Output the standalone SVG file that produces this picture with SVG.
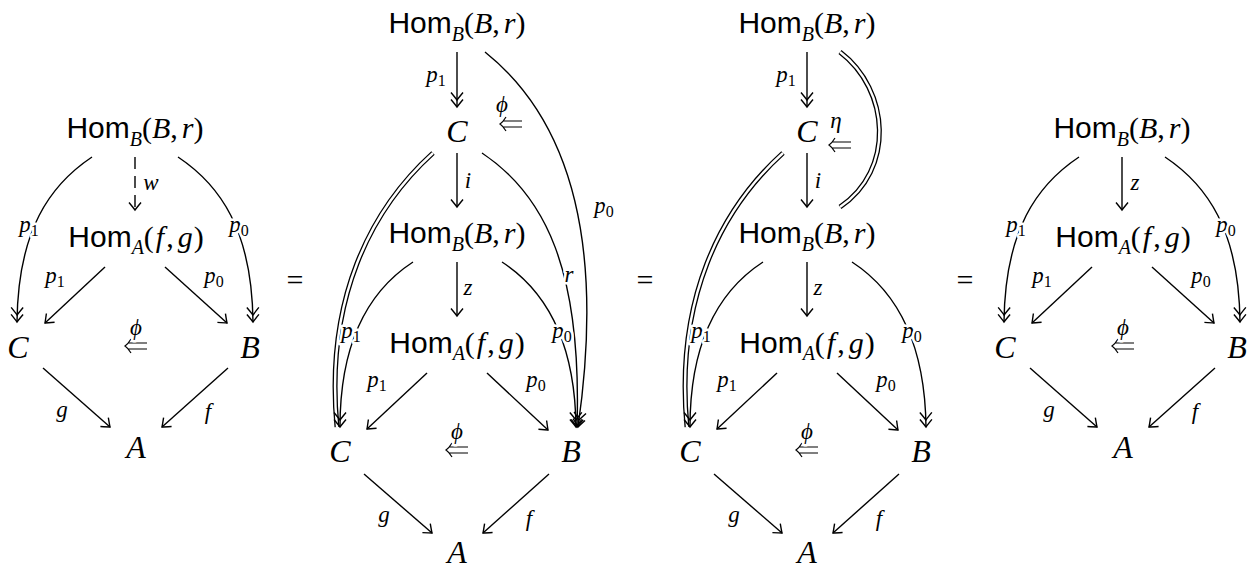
<svg xmlns="http://www.w3.org/2000/svg" xmlns:xlink="http://www.w3.org/1999/xlink" width="1255" height="568" viewBox="0 0 1255 568">
<style>
.m{font-family:"Liberation Serif",serif;font-style:italic;font-size:30px;fill:#000;text-anchor:middle}
.L{font-size:32px}
.u{font-style:normal}
.sf{font-family:"Liberation Sans",sans-serif;font-style:normal}
.sb{font-size:20px}
.lb{font-family:"Liberation Serif",serif;font-style:italic;font-size:23px;fill:#000;text-anchor:middle;stroke:#fff;stroke-width:5px;paint-order:stroke;stroke-linejoin:round}
.s{font-size:16px;font-style:normal}
.eq{font-family:"Liberation Serif",serif;font-size:30px;text-anchor:middle;fill:#000}
.c{fill:none;stroke:#000;stroke-width:1.4}
.a{marker-end:url(#head)}
.a2{marker-end:url(#head2)}
.dash{stroke-dasharray:12 7}
.dbo{fill:none;stroke:#000;stroke-width:5}
.dbi{fill:none;stroke:#fff;stroke-width:2.4}
</style>
<defs>
<marker id="head" markerUnits="userSpaceOnUse" markerWidth="20" markerHeight="20" viewBox="-12 -10 20 20" refX="0" refY="0" orient="auto" overflow="visible">
<path d="M-7.5,-6 Q-2,-1.5 0,0 Q-2,1.5 -7.5,6" fill="none" stroke="#000" stroke-width="1.4"/>
</marker>
<marker id="head2" markerUnits="userSpaceOnUse" markerWidth="30" markerHeight="20" viewBox="-20 -10 30 20" refX="0" refY="0" orient="auto" overflow="visible">
<path d="M-7.5,-6 Q-2,-1.5 0,0 Q-2,1.5 -7.5,6 M-14.5,-6 Q-9,-1.5 -7,0 Q-9,1.5 -14.5,6" fill="none" stroke="#000" stroke-width="1.4"/>
</marker>
<g id="dblarrow">
<path d="M11,-3 H-8 M11,3 H-8 M-5,-7 Q-8,-2 -11,0 Q-8,2 -5,7" fill="none" stroke="#000" stroke-width="1.2"/>
</g>
</defs>

<!-- equals signs -->
<text class="eq" x="295" y="290">=</text>
<text class="eq" x="645" y="290">=</text>
<text class="eq" x="965" y="290">=</text>

<!-- ===== Diagram 1 ===== -->
<g id="diagram1">
<g id="d1-connectors">
<path class="c a dash" d="M135,157 V210"/>
<path class="c a2" d="M92,157 C50,185 18,230 17,322"/>
<path class="c a2" d="M178,157 C220,185 252,230 253,322"/>
<path class="c a" d="M105,267 L45,323"/>
<path class="c a" d="M165,267 L227,323"/>
<path class="c a" d="M43,368 L110,427"/>
<path class="c a" d="M228,368 L162,427"/>
<use xlink:href="#dblarrow" x="136" y="346"/>
<text class="lb" x="151" y="190">w</text>
<text class="lb" x="29" y="232">p<tspan class="s" dy="4">1</tspan></text>
<text class="lb" x="239" y="232">p<tspan class="s" dy="4">0</tspan></text>
<text class="lb" x="55" y="283">p<tspan class="s" dy="4">1</tspan></text>
<text class="lb" x="214" y="283">p<tspan class="s" dy="4">0</tspan></text>
<text class="lb" x="62" y="417">g</text>
<text class="lb" x="208" y="419">f</text>
<text class="lb" x="136" y="335">ϕ</text>
</g>
<g id="d1-homB"><text class="m" x="135" y="138"><tspan class="sf">Hom</tspan><tspan class="sb" dy="8">B</tspan><tspan class="u" dy="-8">(</tspan>B<tspan class="u">,</tspan><tspan dx="4">r</tspan><tspan class="u">)</tspan></text></g>
<g id="d1-homA"><text class="m" x="136" y="247"><tspan class="sf">Hom</tspan><tspan class="sb" dy="7">A</tspan><tspan class="u" dy="-7">(</tspan><tspan dx="2">f</tspan><tspan class="u" dx="2">,</tspan><tspan dx="4">g</tspan><tspan class="u" dx="1">)</tspan></text></g>
<g id="d1-C"><text class="m L" x="18" y="358">C</text></g>
<g id="d1-B"><text class="m L" x="250" y="358">B</text></g>
<g id="d1-A"><text class="m L" x="136" y="458">A</text></g>
</g>

<!-- ===== Diagram 2 ===== -->
<g id="diagram2">
<g id="d2-connectors">
<path class="dbo" d="M433,153 C370,210 325,300 337,427"/>
<path class="dbi" d="M433,153 C370,210 325,300 337,427"/>
<path class="c a2" d="M457,52 V107"/>
<path class="c a2" d="M485,52 C570,120 605,240 578,427"/>
<path class="c a" d="M482,153 C545,195 582,270 577,427"/>
<path class="c a" d="M457,153 V207"/>
<path class="c a2" d="M413,262 C370,290 340,340 340,427"/>
<path class="c a2" d="M502,262 C545,290 575,340 576,427"/>
<path class="c a" d="M457,262 V316"/>
<path class="c a" d="M427,373 L367,429"/>
<path class="c a" d="M487,373 L548,430"/>
<path class="c a" d="M364,474 L432,533"/>
<path class="c a" d="M549,474 L483,533"/>
<use xlink:href="#dblarrow" x="511" y="124"/>
<use xlink:href="#dblarrow" x="457" y="450"/>
<text class="lb" x="502" y="112">ϕ</text>
<text class="lb" x="457" y="439">ϕ</text>
<text class="lb" x="436" y="82">p<tspan class="s" dy="4">1</tspan></text>
<text class="lb" x="604" y="213">p<tspan class="s" dy="4">0</tspan></text>
<text class="lb" x="468" y="188">i</text>
<text class="lb" x="569" y="282">r</text>
<text class="lb" x="468" y="295">z</text>
<text class="lb" x="351" y="338">p<tspan class="s" dy="4">1</tspan></text>
<text class="lb" x="562" y="338">p<tspan class="s" dy="4">0</tspan></text>
<text class="lb" x="377" y="387">p<tspan class="s" dy="4">1</tspan></text>
<text class="lb" x="536" y="387">p<tspan class="s" dy="4">0</tspan></text>
<text class="lb" x="384" y="522">g</text>
<text class="lb" x="529" y="526">f</text>
</g>
<g id="d2-homB-top"><text class="m" x="457" y="33"><tspan class="sf">Hom</tspan><tspan class="sb" dy="8">B</tspan><tspan class="u" dy="-8">(</tspan>B<tspan class="u">,</tspan><tspan dx="4">r</tspan><tspan class="u">)</tspan></text></g>
<g id="d2-C-top"><text class="m L" x="457" y="142">C</text></g>
<g id="d2-homB"><text class="m" x="457" y="243"><tspan class="sf">Hom</tspan><tspan class="sb" dy="8">B</tspan><tspan class="u" dy="-8">(</tspan>B<tspan class="u">,</tspan><tspan dx="4">r</tspan><tspan class="u">)</tspan></text></g>
<g id="d2-homA"><text class="m" x="457" y="353"><tspan class="sf">Hom</tspan><tspan class="sb" dy="7">A</tspan><tspan class="u" dy="-7">(</tspan><tspan dx="2">f</tspan><tspan class="u" dx="2">,</tspan><tspan dx="4">g</tspan><tspan class="u" dx="1">)</tspan></text></g>
<g id="d2-C"><text class="m L" x="340" y="462">C</text></g>
<g id="d2-B"><text class="m L" x="571" y="462">B</text></g>
<g id="d2-A"><text class="m L" x="457" y="563">A</text></g>
</g>

<!-- ===== Diagram 3 ===== -->
<g id="diagram3" transform="translate(350,0)">
<g id="d3-connectors">
<path class="dbo" d="M433,153 C370,210 325,300 337,427"/>
<path class="dbi" d="M433,153 C370,210 325,300 337,427"/>
<path class="dbo" d="M490,52 C540,90 545,170 490,207"/>
<path class="dbi" d="M490,52 C540,90 545,170 490,207"/>
<path class="c a2" d="M457,52 V107"/>
<path class="c a" d="M457,153 V207"/>
<path class="c a2" d="M413,262 C370,290 340,340 340,427"/>
<path class="c a2" d="M502,262 C545,290 575,340 576,427"/>
<path class="c a" d="M457,262 V316"/>
<path class="c a" d="M427,373 L367,429"/>
<path class="c a" d="M487,373 L548,430"/>
<path class="c a" d="M364,474 L432,533"/>
<path class="c a" d="M549,474 L483,533"/>
<use xlink:href="#dblarrow" x="490" y="145"/>
<use xlink:href="#dblarrow" x="457" y="450"/>
<text class="lb" x="486" y="128">η</text>
<text class="lb" x="457" y="439">ϕ</text>
<text class="lb" x="436" y="82">p<tspan class="s" dy="4">1</tspan></text>
<text class="lb" x="468" y="188">i</text>
<text class="lb" x="468" y="295">z</text>
<text class="lb" x="351" y="338">p<tspan class="s" dy="4">1</tspan></text>
<text class="lb" x="562" y="338">p<tspan class="s" dy="4">0</tspan></text>
<text class="lb" x="377" y="387">p<tspan class="s" dy="4">1</tspan></text>
<text class="lb" x="536" y="387">p<tspan class="s" dy="4">0</tspan></text>
<text class="lb" x="384" y="522">g</text>
<text class="lb" x="529" y="526">f</text>
</g>
<g id="d3-homB-top"><text class="m" x="457" y="33"><tspan class="sf">Hom</tspan><tspan class="sb" dy="8">B</tspan><tspan class="u" dy="-8">(</tspan>B<tspan class="u">,</tspan><tspan dx="4">r</tspan><tspan class="u">)</tspan></text></g>
<g id="d3-C-top"><text class="m L" x="457" y="142">C</text></g>
<g id="d3-homB"><text class="m" x="457" y="243"><tspan class="sf">Hom</tspan><tspan class="sb" dy="8">B</tspan><tspan class="u" dy="-8">(</tspan>B<tspan class="u">,</tspan><tspan dx="4">r</tspan><tspan class="u">)</tspan></text></g>
<g id="d3-homA"><text class="m" x="457" y="353"><tspan class="sf">Hom</tspan><tspan class="sb" dy="7">A</tspan><tspan class="u" dy="-7">(</tspan><tspan dx="2">f</tspan><tspan class="u" dx="2">,</tspan><tspan dx="4">g</tspan><tspan class="u" dx="1">)</tspan></text></g>
<g id="d3-C"><text class="m L" x="340" y="462">C</text></g>
<g id="d3-B"><text class="m L" x="571" y="462">B</text></g>
<g id="d3-A"><text class="m L" x="457" y="563">A</text></g>
</g>

<!-- ===== Diagram 4 ===== -->
<g id="diagram4" transform="translate(987,0)">
<g id="d4-connectors">
<path class="c a" d="M135,157 V210"/>
<path class="c a2" d="M92,157 C50,185 18,230 17,322"/>
<path class="c a2" d="M178,157 C220,185 252,230 253,322"/>
<path class="c a" d="M105,267 L45,323"/>
<path class="c a" d="M165,267 L227,323"/>
<path class="c a" d="M43,368 L110,427"/>
<path class="c a" d="M228,368 L162,427"/>
<use xlink:href="#dblarrow" x="136" y="346"/>
<text class="lb" x="148" y="190">z</text>
<text class="lb" x="29" y="232">p<tspan class="s" dy="4">1</tspan></text>
<text class="lb" x="239" y="232">p<tspan class="s" dy="4">0</tspan></text>
<text class="lb" x="55" y="283">p<tspan class="s" dy="4">1</tspan></text>
<text class="lb" x="214" y="283">p<tspan class="s" dy="4">0</tspan></text>
<text class="lb" x="62" y="417">g</text>
<text class="lb" x="208" y="419">f</text>
<text class="lb" x="136" y="335">ϕ</text>
</g>
<g id="d4-homB"><text class="m" x="135" y="138"><tspan class="sf">Hom</tspan><tspan class="sb" dy="8">B</tspan><tspan class="u" dy="-8">(</tspan>B<tspan class="u">,</tspan><tspan dx="4">r</tspan><tspan class="u">)</tspan></text></g>
<g id="d4-homA"><text class="m" x="136" y="247"><tspan class="sf">Hom</tspan><tspan class="sb" dy="7">A</tspan><tspan class="u" dy="-7">(</tspan><tspan dx="2">f</tspan><tspan class="u" dx="2">,</tspan><tspan dx="4">g</tspan><tspan class="u" dx="1">)</tspan></text></g>
<g id="d4-C"><text class="m L" x="18" y="358">C</text></g>
<g id="d4-B"><text class="m L" x="250" y="358">B</text></g>
<g id="d4-A"><text class="m L" x="136" y="458">A</text></g>
</g>
</svg>
